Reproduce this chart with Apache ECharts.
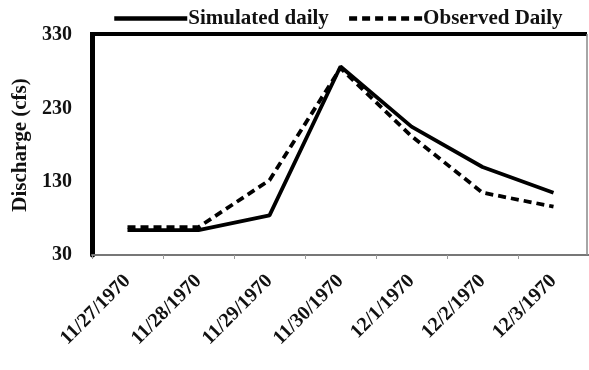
<!DOCTYPE html>
<html><head><meta charset="utf-8">
<script src="https://cdn.jsdelivr.net/npm/echarts@6/dist/echarts.min.js"></script>
<style>html,body{margin:0;padding:0;background:#fff}#c{width:589px;height:370px}</style>
</head><body><div id="c"></div>
<script>
var categories = ['11/27/1970','11/28/1970','11/29/1970','11/30/1970','12/1/1970','12/2/1970','12/3/1970'];
var simulated = [64, 64, 84, 287, 205, 150, 115];
var observed = [68, 68, 132, 285, 192, 115, 96];
var yTicks = [30, 130, 230, 330];

var font = '"Liberation Serif", "Times New Roman", serif';
var chart = echarts.init(document.getElementById('c'));
chart.setOption({
  animation: false,
  backgroundColor: '#fff',
  legend: {
    top: 3, left: 107, itemGap: 18, itemWidth: 73, itemHeight: 14,
    itemStyle: {opacity: 0},
    lineStyle: {width: 4.5},
    textStyle: {fontFamily: font, fontWeight: 'bold', fontSize: 21, color: '#111', padding: [0,0,0,-4]},
    data: ['Simulated daily', 'Observed Daily']
  },
  grid: {left: 92, right: -2, top: 35, height: 220},
  xAxis: {
    type: 'category', data: categories, boundaryGap: true,
    axisLine: {lineStyle: {color: '#777', width: 2}},
    axisTick: {show: true, length: 4, lineStyle: {color: '#999'}},
    axisLabel: {rotate: 45, fontFamily: font, fontWeight: 'bold', fontSize: 20, color: '#111', margin: 23},
    splitLine: {show: false}
  },
  yAxis: {
    type: 'value', min: yTicks[0], max: yTicks[yTicks.length-1], interval: 100,
    name: 'Discharge (cfs)', nameLocation: 'middle', nameGap: 57, nameRotate: 90,
    nameTextStyle: {fontFamily: font, fontWeight: 'bold', fontSize: 21, color: '#111'},
    axisLine: {show: true, lineStyle: {color: '#000', width: 5}},
    axisTick: {show: false},
    axisLabel: {fontFamily: font, fontWeight: 'bold', fontSize: 20, color: '#111', margin: 20},
    splitLine: {show: false}
  },
  graphic: [
    {type: 'line', shape: {x1: 90, y1: 34, x2: 587, y2: 34}, style: {stroke: '#000', lineWidth: 4}, z: 10},
    {type: 'line', shape: {x1: 587, y1: 34, x2: 587, y2: 255}, style: {stroke: '#888', lineWidth: 1.5}, z: 10}
  ],
  series: [
    {name: 'Simulated daily', type: 'line', data: simulated, symbol: 'none',
     lineStyle: {color: '#000', width: 3.8}, itemStyle: {color: '#000'}},
    {name: 'Observed Daily', type: 'line', data: observed, symbol: 'none',
     lineStyle: {color: '#000', width: 3.8, type: [8, 5]}, itemStyle: {color: '#000'}}
  ]
});
</script></body></html>
